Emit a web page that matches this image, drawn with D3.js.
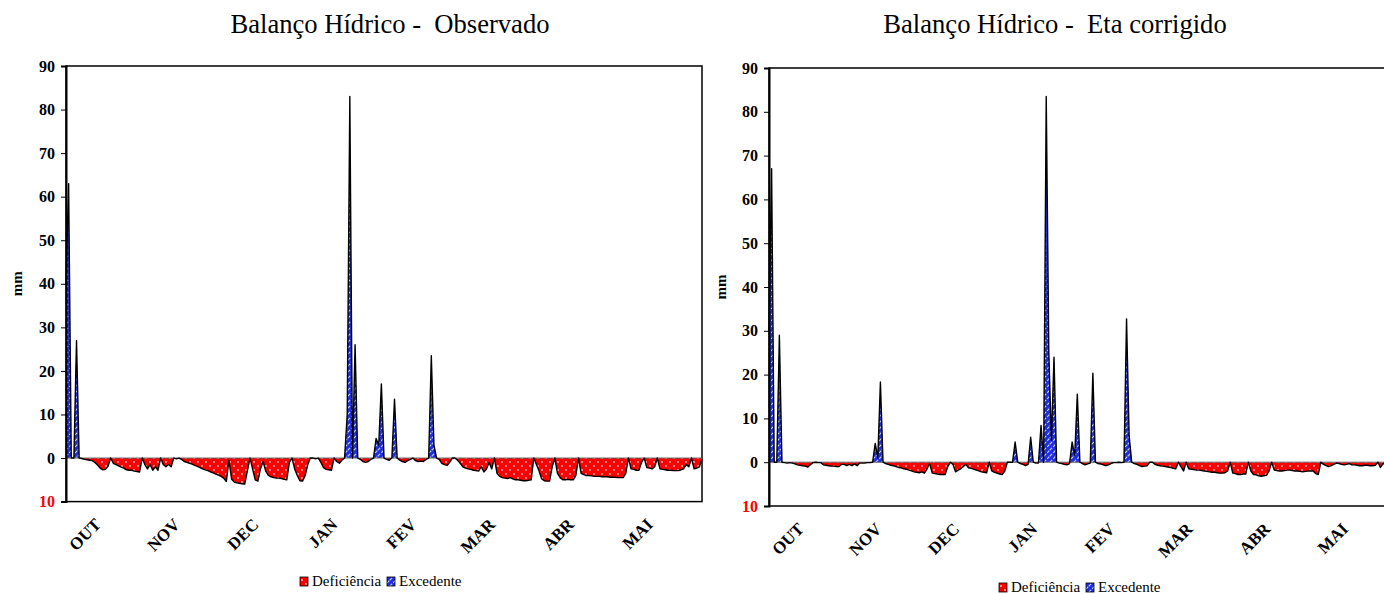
<!DOCTYPE html>
<html>
<head>
<meta charset="utf-8">
<script src="https://cdn.jsdelivr.net/npm/d3@7"></script>
<style>
body { margin: 0; background: #fff; }
svg { display: block; }
</style>
</head>
<body>
<svg id="chart" width="1384" height="594"></svg>
<script>
// meses (rótulos a cada 30 dias)
const months = ["OUT", "NOV", "DEC", "JAN", "FEV", "MAR", "ABR", "MAI"];
const yTicks = [-10, 0, 10, 20, 30, 40, 50, 60, 70, 80, 90];
const legendNames = ["Deficiência", "Excedente"];

// balanço diário (mm), 1 out - 31 mai: positivo = excedente, negativo = deficiência
const observado = [
  40, 63, 0, 0, 27, 0, -0.1, -0.3, -0.4, -0.5,
  -0.6, -1.0, -1.6, -2.3, -2.7, -2.6, -1.9, 0, -1.2, -1.5,
  -1.8, -2.1, -2.3, -2.7, -2.8, -2.8, -3.0, -3.1, -3.2, 0,
  -1.5, -2.5, -1.5, -2.8, -2.0, -2.8, 0, -1.5, -2.0, -1.5,
  -2.0, 0, -0.2, 0, -0.3, -0.8, -1.0, -1.2, -1.4, -1.7,
  -1.9, -2.2, -2.5, -2.7, -2.9, -3.2, -3.4, -3.7, -3.9, -4.2,
  -4.6, -5.4, -0.5, -4.8, -5.5, -5.7, -5.8, -5.9, -6.0, -3.0,
  0, -2.5, -5.0, -5.3, -2.5, -0.8, -3.0, -4.0, -4.3, -4.5,
  -4.6, -4.6, -4.7, -4.9, -5.0, -1.0, 0, -2.5, -4.0, -5.2,
  -5.3, -4.0, -1.5, 0, 0, -0.2, 0, -1.0, -2.2, -2.6,
  -2.7, -2.8, 0, -0.8, -1.2, -0.5, 0, 10, 83, 0,
  26, 0, -0.3, -0.8, -1.0, -0.8, -0.3, 0, 4.5, 3,
  17, 0, -0.3, -0.5, 0, 13.5, 0, -0.5, -0.8, -1.0,
  -0.6, -0.3, 0, -0.6, -0.8, -0.7, -0.8, -0.3, 0, 23.5,
  3, 0, -0.3, -1.2, -1.5, -1.7, -1.0, 0, 0, -0.5,
  -1.2, -2.0, -2.3, -2.5, -2.6, -2.8, -2.9, -3.0, -2.0, -3.2,
  -2.5, -1.0, -2.5, 0, -3.5, -4.2, -4.5, -4.6, -4.7, -4.5,
  -4.8, -5.0, -5.0, -5.1, -5.2, -5.2, -5.1, -5.0, 0, -1.5,
  -3.0, -4.8, -5.2, -5.3, -5.3, -2.0, 0, -3.5, -4.5, -5.0,
  -5.0, -4.9, -5.0, -5.0, -4.0, 0, -3.5, -3.8, -4.0, -4.0,
  -4.1, -4.2, -4.2, -4.2, -4.3, -4.3, -4.3, -4.4, -4.4, -4.4,
  -4.5, -4.5, -4.5, -3.5, 0, -2.5, -2.6, -2.8, -2.8, -1.0,
  0, -2.2, -2.3, -2.5, -2.0, 0, -2.5, -2.6, -2.7, -2.8,
  -2.8, -2.9, -2.9, -2.9, -2.7, -2.5, -1.5, -2.0, 0, -2.5,
  -2.3, -2.0, -0.3
];

const etaCorrigido = [
  30, 67, 0, 0, 29, 0, -0.1, -0.2, -0.1, -0.2,
  -0.4, -0.6, -0.7, -0.8, -0.9, -1.1, -0.6, -0.1, 0, -0.1,
  -0.1, -0.6, -0.7, -0.8, -0.9, -0.9, -1.0, -1.0, -0.5, -0.5,
  -0.8, -0.5, -0.8, -0.4, -0.8, -0.2, -0.2, -0.2, -0.1, -0.1,
  0, 4.3, 1, 18.3, 0, -0.3, -0.5, -0.7, -0.8, -1.0,
  -1.2, -1.3, -1.5, -1.6, -1.8, -2.0, -2.2, -2.3, -2.4, -2.2,
  -2.5, -1.5, -0.3, -2.5, -2.6, -2.7, -2.8, -2.8, -2.8, -1.0,
  0, -0.5, -2.2, -1.8, -1.5, -1.0, -0.5, -1.3, -1.4, -1.6,
  -1.8, -2.0, -2.2, -2.3, -2.4, 0, -2.0, -2.3, -2.5, -2.7,
  -2.8, -2.0, 0, 0, 0, 4.6, 0, -0.3, -0.5, -0.8,
  -0.5, 5.7, 0, -0.2, -0.2, 8.4, 0, 83.5, 25, 5,
  24, 0, -0.2, -0.3, -0.5, -0.6, -0.3, 4.6, 1.5, 15.5,
  0, -0.3, -0.6, -0.4, -0.2, 20.3, 0, -0.3, -0.4, -0.6,
  -0.8, -0.6, -0.3, -0.1, -0.1, 0, -0.1, 0, 32.7, 6,
  0, -0.3, -0.5, -0.8, -1.0, -0.9, -0.8, 0, 0, -0.5,
  -0.7, -0.8, -0.9, -1.0, -1.1, -1.2, -1.4, -1.5, 0, -1.0,
  -2.0, 0, -1.5, -1.6, -1.7, -1.8, -1.8, -1.9, -2.0, -2.1,
  -2.2, -2.3, -2.3, -2.4, -2.5, -2.5, -2.4, -2.0, 0, -2.5,
  -2.6, -2.8, -2.8, -2.7, -2.7, 0, -2.0, -2.8, -2.9, -3.1,
  -3.2, -3.1, -3.0, -2.0, 0, -1.8, -1.9, -2.0, -2.0, -1.9,
  -1.8, -1.8, -1.9, -2.0, -2.0, -2.1, -2.2, -2.1, -2.0, -2.0,
  -2.0, -2.6, -2.8, 0, -0.5, -0.8, -1.0, -0.8, -0.5, -0.2,
  -0.3, -0.5, -0.6, -0.5, -0.3, -0.6, -0.6, -0.7, -0.8, -0.8,
  -0.7, -0.7, -0.8, -0.8, -0.7, 0, -1.2, -0.3, -0.5, -0.4,
  -0.5, -0.3, -0.5
];

const svg = d3.select("#chart");
const serif = "'Liberation Serif', 'Times New Roman', serif";

// padrões de preenchimento
const defs = svg.append("defs");
const dots = defs.append("pattern")
    .attr("id", "defPattern")
    .attr("patternUnits", "userSpaceOnUse")
    .attr("width", 8).attr("height", 8);
dots.append("rect").attr("width", 8).attr("height", 8).attr("fill", "#ff0000");
dots.append("circle").attr("cx", 2).attr("cy", 2).attr("r", 0.9).attr("fill", "#ffc8c8");
dots.append("circle").attr("cx", 6).attr("cy", 6).attr("r", 0.9).attr("fill", "#ffc8c8");

const hatch = defs.append("pattern")
    .attr("id", "excPattern")
    .attr("patternUnits", "userSpaceOnUse")
    .attr("width", 6).attr("height", 6);
hatch.append("rect").attr("width", 6).attr("height", 6).attr("fill", "#1f2fe0");
hatch.append("path").attr("d", "M0,6 L6,0 M-1,1 L1,-1 M5,7 L7,5")
    .attr("stroke", "#c8d2ff").attr("stroke-width", 1.1)
    .attr("stroke-dasharray", "3,1.5");

function drawPanel(values, title, box) {
    const x = d3.scaleLinear().domain([0, 242]).range([box.left, box.right]);
    const y = d3.scaleLinear().domain([-10, 90]).range([box.bottom, box.top]);
    const g = svg.append("g");

    // título
    g.append("text")
        .attr("x", box.titleX).attr("y", 33)
        .attr("text-anchor", "middle")
        .style("font-family", serif).style("font-size", "26.6px")
        .style("white-space", "pre")
        .text(title);

    // moldura
    g.append("rect")
        .attr("x", box.left).attr("y", box.top)
        .attr("width", box.right - box.left).attr("height", box.bottom - box.top)
        .attr("fill", "none").attr("stroke", "#000").attr("stroke-width", 1.5);

    // áreas
    const defArea = d3.area()
        .x((d, i) => x(i)).y0(y(0)).y1(d => y(Math.min(d, 0)));
    const excArea = d3.area()
        .x((d, i) => x(i)).y0(y(0)).y1(d => y(Math.max(d, 0)));

    g.append("path").datum(values)
        .attr("d", defArea).attr("fill", "url(#defPattern)");
    g.append("path").datum(values)
        .attr("d", excArea).attr("fill", "url(#excPattern)");

    // linha do zero
    g.append("line")
        .attr("x1", box.left).attr("x2", box.right)
        .attr("y1", y(0)).attr("y2", y(0))
        .attr("stroke", "#666").attr("stroke-width", 1);

    // contorno
    g.append("path").datum(values)
        .attr("d", d3.line().x((d, i) => x(i)).y(d => y(d)))
        .attr("fill", "none").attr("stroke", "#000").attr("stroke-width", 1.4)
        .attr("stroke-linejoin", "round");

    // eixo y
    const yAxis = g.append("g")
        .attr("transform", `translate(${box.left},0)`)
        .call(d3.axisLeft(y).tickValues(yTicks).tickSize(5).tickPadding(6)
            .tickFormat(d => Math.abs(d)));
    yAxis.select(".domain").attr("stroke-width", 2);
    yAxis.selectAll("text")
        .style("font-family", serif).style("font-size", "16px")
        .style("font-weight", "bold")
        .attr("fill", d => d < 0 ? "#ff0000" : "#000");

    g.append("text")
        .attr("transform", `translate(${box.mmX},${(box.top + box.bottom) / 2}) rotate(-90)`)
        .attr("text-anchor", "middle")
        .style("font-family", serif).style("font-size", "15px").style("font-weight", "bold")
        .text("mm");

    // rótulos dos meses
    g.selectAll(".mes")
        .data(months)
        .enter().append("text")
        .attr("text-anchor", "end")
        .attr("transform", (d, i) => `translate(${x(i * 30) + 36},${box.bottom + 24}) rotate(-45)`)
        .style("font-family", serif).style("font-size", "17px").style("font-weight", "bold")
        .text(d => d);

    // legenda
    const lg = g.append("g").attr("transform", `translate(${box.legendX},${box.legendY})`);
    const fills = ["url(#defPattern)", "url(#excPattern)"];
    const offs = [0, 87];
    legendNames.forEach((name, i) => {
        lg.append("rect")
            .attr("x", offs[i]).attr("y", -9).attr("width", 8).attr("height", 9)
            .attr("fill", fills[i]).attr("stroke", "#000").attr("stroke-width", 0.8);
        lg.append("text")
            .attr("x", offs[i] + 12).attr("y", 0)
            .style("font-family", serif).style("font-size", "15px")
            .text(name);
    });
}

drawPanel(observado, "Balanço Hídrico -  Observado",
    { left: 66, right: 702, top: 66, bottom: 501.6, titleX: 390, mmX: 22, legendX: 300, legendY: 586 });
drawPanel(etaCorrigido, "Balanço Hídrico -  Eta corrigido",
    { left: 769, right: 1396, top: 68, bottom: 506, titleX: 1055, mmX: 726, legendX: 999, legendY: 592 });
</script>
</body>
</html>
